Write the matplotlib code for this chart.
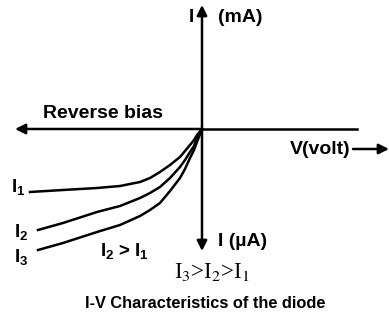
import matplotlib
matplotlib.use("Agg")
import matplotlib.pyplot as plt

plt.rcParams["mathtext.fontset"] = "custom"
plt.rcParams["mathtext.rm"] = "Liberation Sans:bold"
plt.rcParams["mathtext.it"] = "Liberation Sans:bold"
plt.rcParams["mathtext.bf"] = "Liberation Sans:bold"

# valores (origen en el cruce de ejes)
v1 = [-172, -139, -105, -82, -62, -52, -42, -32, -22, -17, -12, -8, -5, 0]
v = [-164, -139, -105, -82, -62, -52, -42, -32, -22, -17, -12, -8, -5, 0]
i1 = [-63, -61, -59, -57, -53, -49, -43, -36, -28, -22, -16, -11, -6, 0]
i2 = [-101, -94, -83, -77, -69, -64, -58, -49, -38, -31, -23, -17, -9, 0]
i3 = [-121, -114, -103, -96, -87, -81, -74, -62, -49, -40, -29, -21, -13, 0]
etiquetas = ["I$_1$", "I$_2$", "I$_3$"]

fig = plt.figure(figsize=(3.89, 3.22), dpi=100)
ax = fig.add_axes([0, 0, 1, 1])
ax.set_xlim(-202, 187)
ax.set_ylim(-193, 129)
ax.axis("off")

fuente = dict(family="Liberation Sans", weight="bold", va="center")
tam = 13.5

# ejes
flecha = dict(arrowstyle="-|>", color="black", lw=1.8, mutation_scale=15, shrinkA=0, shrinkB=0)
ax.annotate("", xy=(-187, 0), xytext=(0, 0), arrowprops=flecha)
ax.plot([0, 155], [0, 0], color="black", lw=1.8)
ax.annotate("", xy=(0, 124), xytext=(0, 0), arrowprops=flecha)
ax.annotate("", xy=(0, -122), xytext=(0, 0), arrowprops=flecha)
ax.annotate("", xy=(187, -20), xytext=(151, -20), arrowprops=flecha)

# curvas
for xs, ys in [(v1, i1), (v, i2), (v, i3)]:
    ax.plot(xs, ys, color="black", lw=1.8, solid_joinstyle="round")

# textos
ax.text(-159, 15, "Reverse bias", fontsize=14, **fuente)
ax.text(-8, 112, "I", fontsize=tam, ha="right", **fuente)
ax.text(16, 112, "(mA)", fontsize=14, **fuente)
ax.text(148, -21, "V(volt)", fontsize=14, ha="right", **fuente)
ax.text(16, -113, "I (µA)", fontsize=14, **fuente)
ax.text(-191, -58, etiquetas[0], fontsize=tam, **fuente)
ax.text(-188, -103, etiquetas[1], fontsize=tam, **fuente)
ax.text(-188, -128, etiquetas[2], fontsize=tam, **fuente)
ax.text(-102, -122, "I$_2$ > I$_1$", fontsize=tam, **fuente)
ax.text(10, -143, "I$_3$>I$_2$>I$_1$", fontsize=16.5, family="Liberation Serif", va="center", ha="center",
        math_fontfamily="stix")
ax.text(3, -174, "I-V Characteristics of the diode", fontsize=11.8, ha="center", **fuente)

fig.savefig("out.png", dpi=100)
